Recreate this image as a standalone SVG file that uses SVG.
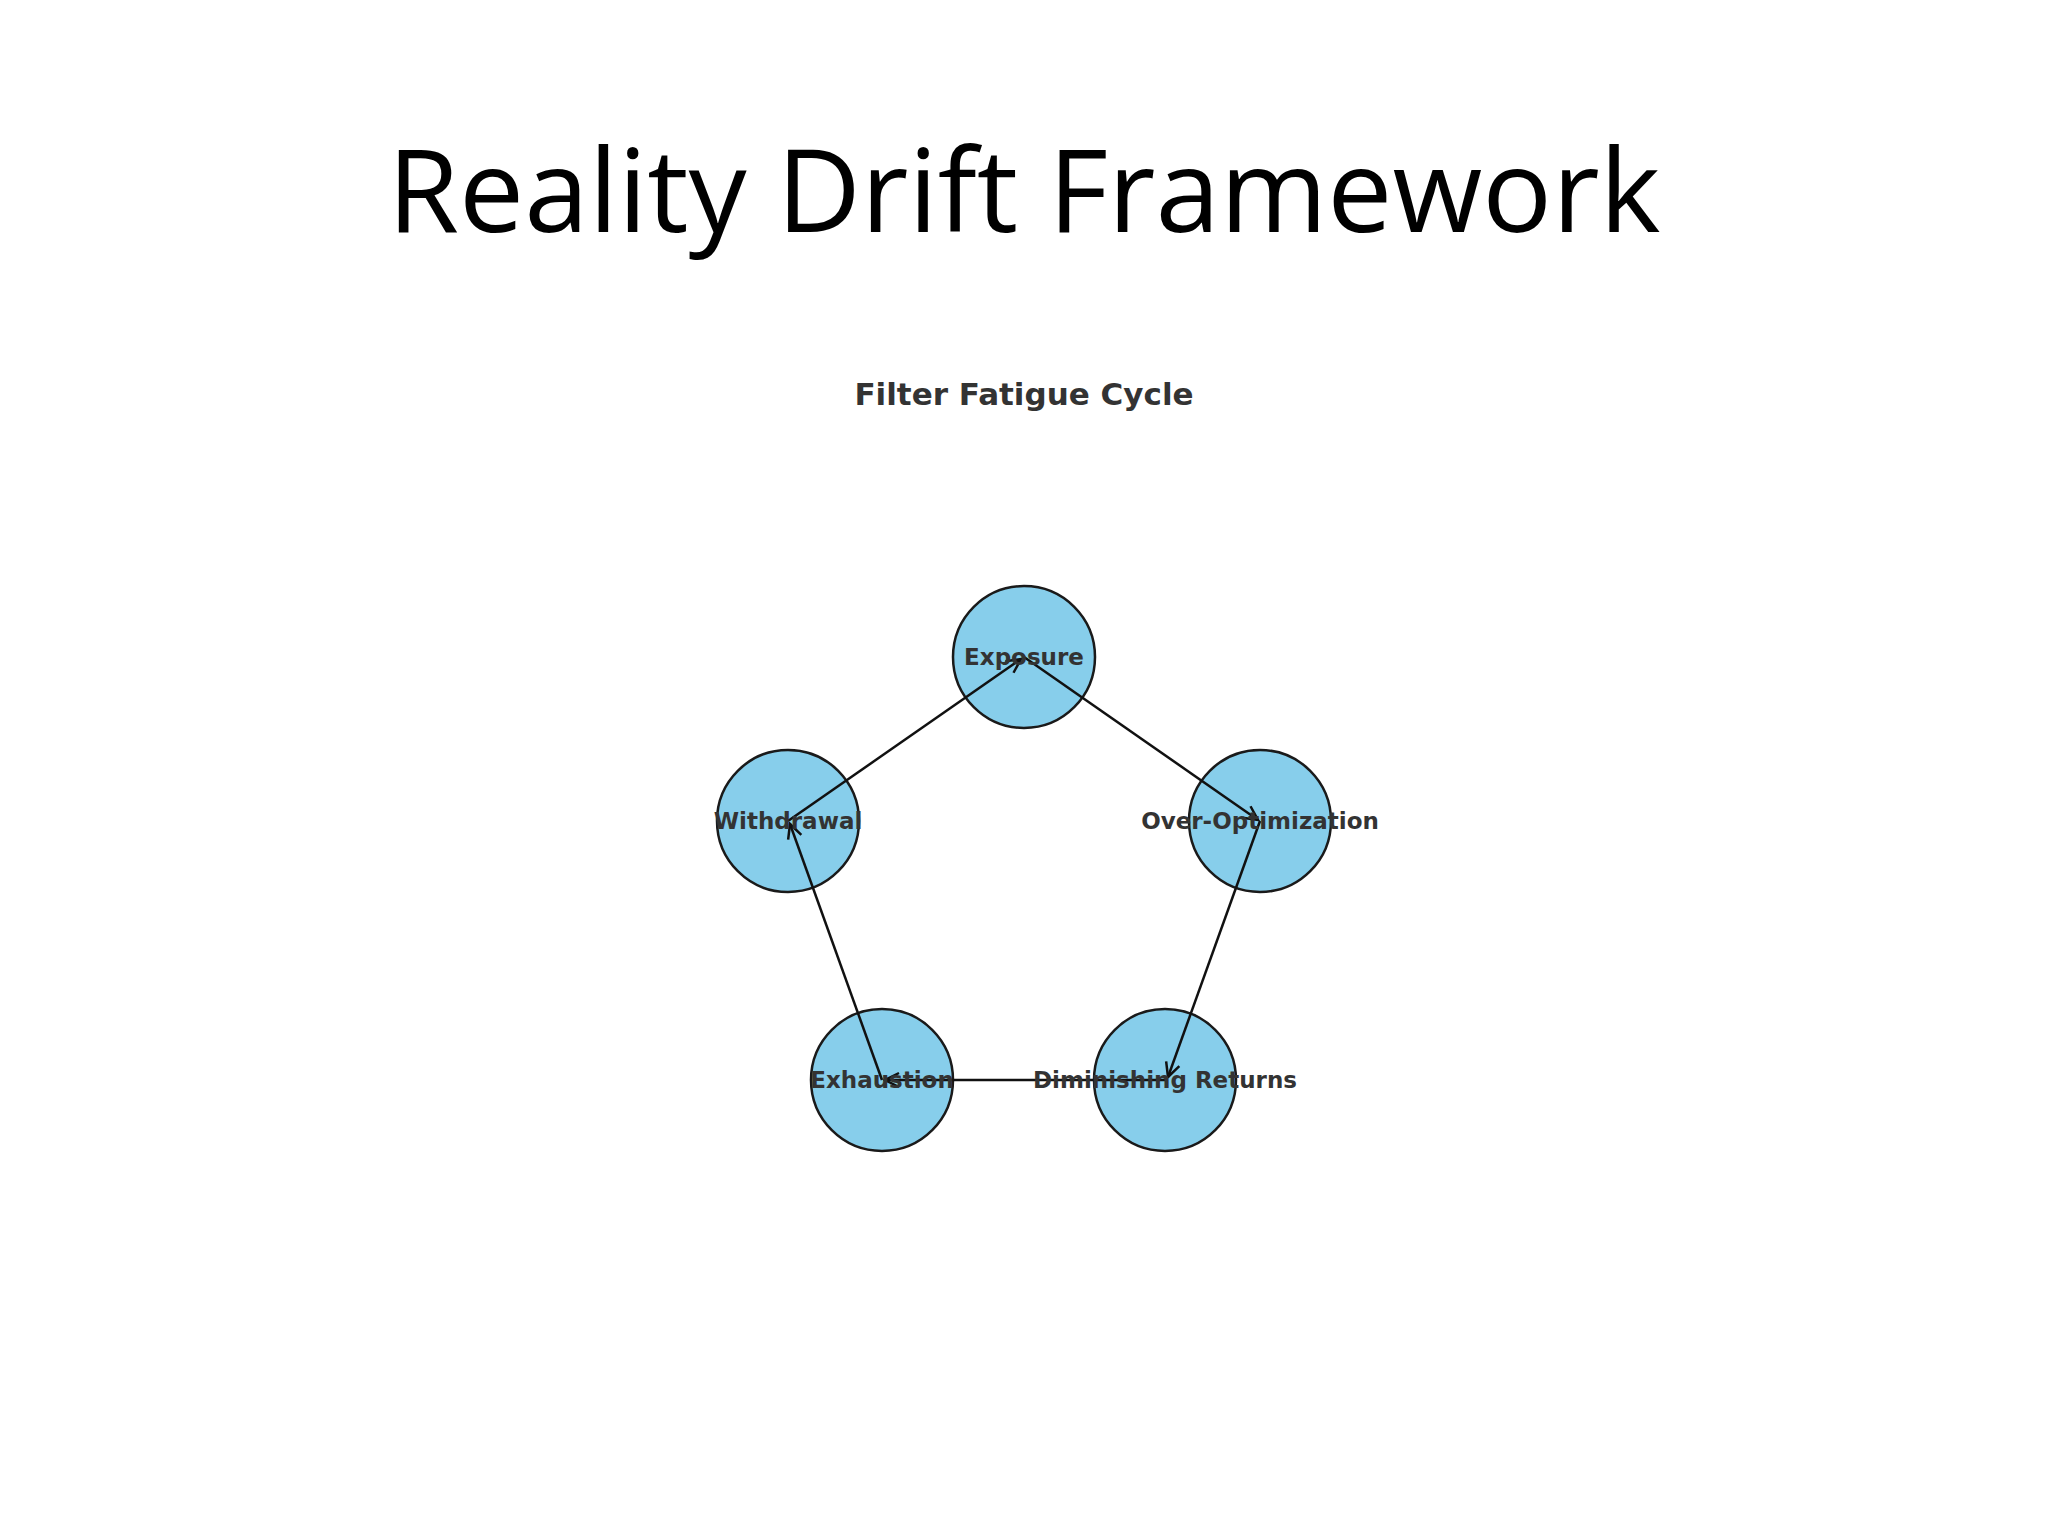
<svg xmlns="http://www.w3.org/2000/svg" width="2048" height="1536" viewBox="0 0 2048 1536">
<style>
.n{fill:#87CEEB;stroke:#1a1a1a;stroke-width:2.5}
.l{font-family:"DejaVu Sans",sans-serif;font-weight:bold;font-size:23px;fill:#333;text-anchor:middle;dominant-baseline:central}
.e{stroke:#111;stroke-width:2.5;fill:none;marker-end:url(#a)}
</style>
<defs><marker id="a" viewBox="0 0 20 20" refX="18" refY="10" markerWidth="20" markerHeight="20" markerUnits="userSpaceOnUse" orient="auto"><path d="M4,3 L18,10 L4,17" fill="none" stroke="#111" stroke-width="2.5"/></marker></defs>
<rect width="2048" height="1536" fill="#fff"/>
<text x="1024" y="232" font-family="Open Sans,Liberation Sans,sans-serif" font-size="116" text-anchor="middle" fill="#000">Reality Drift Framework</text>
<text x="1024" y="394" class="l" font-size="31" style="font-size:31px">Filter Fatigue Cycle</text>
<g id="nodes">
<g id="exposure"><circle class="n" cx="1024" cy="657" r="71"/></g>
<g id="overopt"><circle class="n" cx="1260" cy="821" r="71"/></g>
<g id="dimin"><circle class="n" cx="1165" cy="1080" r="71"/></g>
<g id="exhaust"><circle class="n" cx="882" cy="1080" r="71"/></g>
<g id="withdraw"><circle class="n" cx="788" cy="821" r="71"/></g>
</g>
<g id="connectors">
<line class="e" x1="1024" y1="657" x2="1258" y2="820"/>
<line class="e" x1="1260" y1="821" x2="1168" y2="1077"/>
<line class="e" x1="1165" y1="1080" x2="885" y2="1080"/>
<line class="e" x1="882" y1="1080" x2="790" y2="824"/>
<line class="e" x1="788" y1="821" x2="1021" y2="659"/>
</g>
<g id="labels">
<text class="l" x="1024" y="657">Exposure</text>
<text class="l" x="1260" y="821">Over-Optimization</text>
<text class="l" x="1165" y="1080">Diminishing Returns</text>
<text class="l" x="882" y="1080">Exhaustion</text>
<text class="l" x="788" y="821">Withdrawal</text>
</g>
</svg>
